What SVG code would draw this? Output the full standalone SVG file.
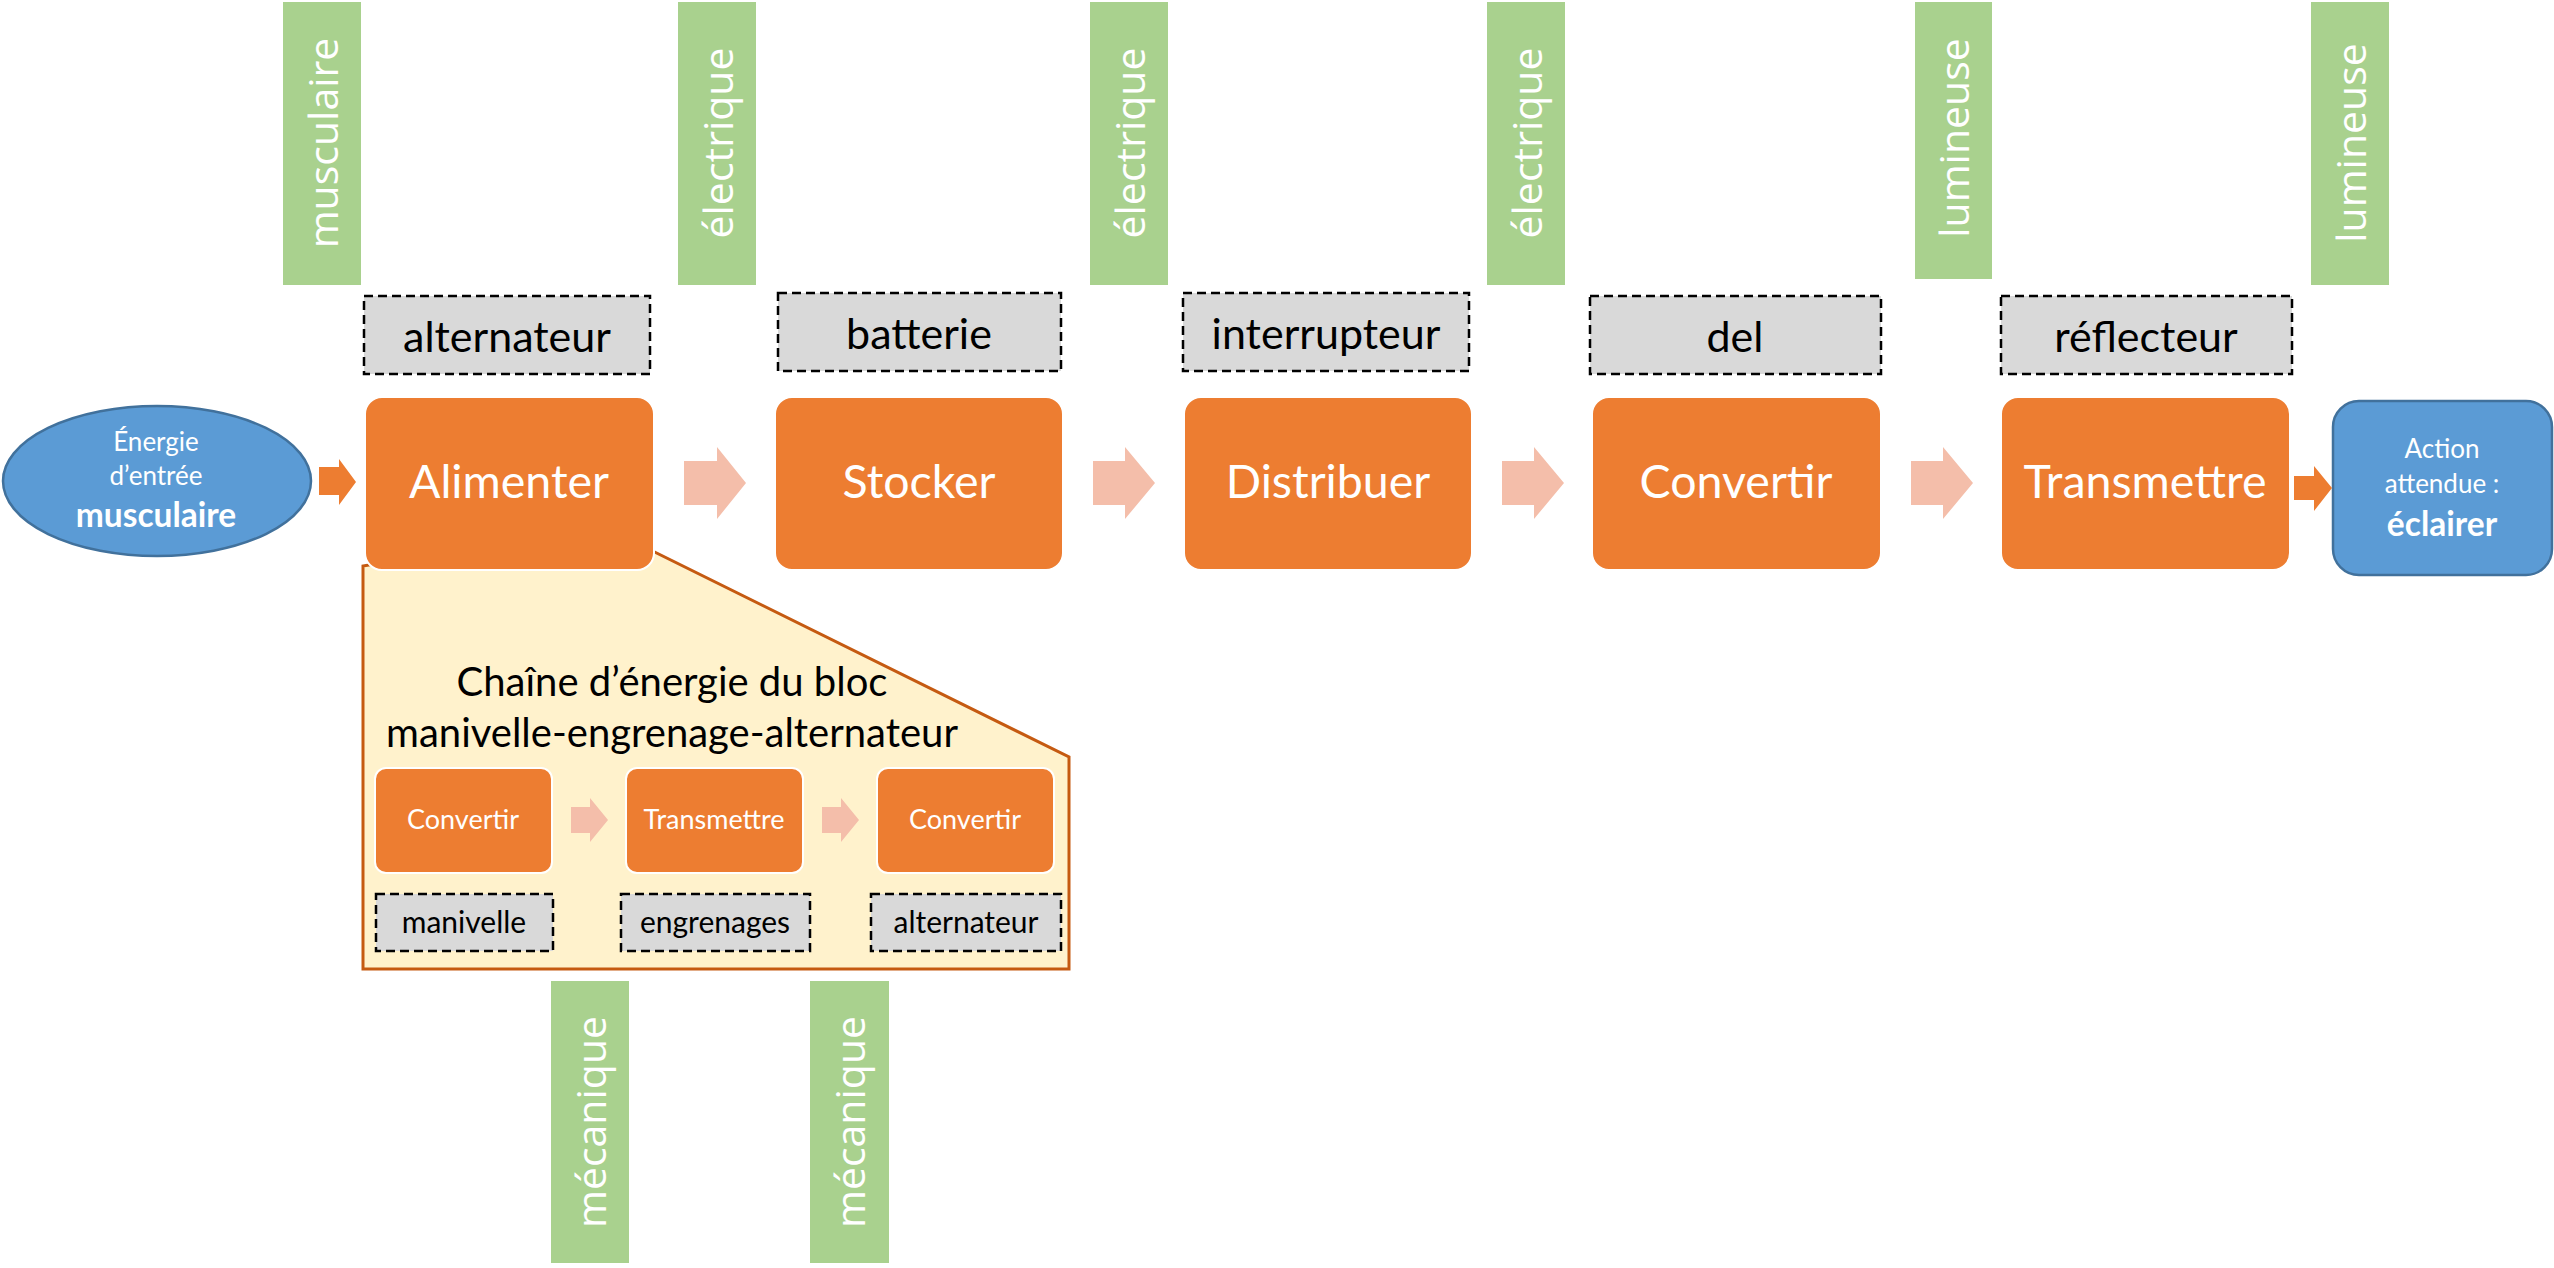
<svg xmlns="http://www.w3.org/2000/svg" width="2554" height="1268" viewBox="0 0 2554 1268">
  <style>
    .bar { fill: #A9D18E; }
    .bar-txt { font-family: "Open Sans", "Liberation Sans", sans-serif; font-weight: 400; font-size: 41px; fill: #FFFFFF; text-anchor: middle; }
    .tag { fill: #D9D9D9; stroke: #000000; stroke-width: 2.5; stroke-dasharray: 9 5; }
    .tag-txt { font-family: Lato, "Liberation Sans", sans-serif; font-size: 43px; fill: #000000; text-anchor: middle; }
    .tag-sm-txt { font-family: Lato, "Liberation Sans", sans-serif; font-size: 30px; fill: #000000; text-anchor: middle; }
    .fn { fill: #ED7D31; stroke: #FFFFFF; stroke-width: 2; }
    .fn-txt { font-family: Lato, "Liberation Sans", sans-serif; font-size: 46.5px; fill: #FFFFFF; text-anchor: middle; }
    .fn-sm-txt { font-family: Lato, "Liberation Sans", sans-serif; font-size: 27px; fill: #FFFFFF; text-anchor: middle; }
    .io { fill: #5B9BD5; stroke: #41719C; stroke-width: 2.5; }
    .io-txt { font-family: Lato, "Liberation Sans", sans-serif; font-size: 26px; fill: #FFFFFF; text-anchor: middle; }
    .io-bold { font-family: Lato, "Liberation Sans", sans-serif; font-size: 33.5px; font-weight: 700; fill: #FFFFFF; text-anchor: middle; }
    .flow { fill: #F4BEAA; }
    .flow-io { fill: #ED7D31; }
    .callout { fill: #FFF2CC; stroke: #C55A11; stroke-width: 3; }
    .callout-txt { font-family: Lato, "Liberation Sans", sans-serif; font-size: 40px; fill: #000000; text-anchor: middle; }
  </style>

  <!-- detail of the Alimenter block, drawn first so the block covers its wedge -->
  <g id="detail-callout">
    <polygon class="callout" points="363,969 363,566 600,525 1069,757 1069,969"/>
    <text class="callout-txt" x="672" y="696">Chaîne d’énergie du bloc</text>
    <text class="callout-txt" x="672" y="747">manivelle-engrenage-alternateur</text>
  </g>

  <!-- energy labels (top) -->
  <g id="energy-musculaire">
    <rect class="bar" x="283" y="2" width="78" height="283"/>
    <text class="bar-txt" transform="translate(338,143) rotate(-90)">musculaire</text>
  </g>
  <g id="energy-electrique-1">
    <rect class="bar" x="678" y="2" width="78" height="283"/>
    <text class="bar-txt" transform="translate(733,143) rotate(-90)">électrique</text>
  </g>
  <g id="energy-electrique-2">
    <rect class="bar" x="1090" y="2" width="78" height="283"/>
    <text class="bar-txt" transform="translate(1145,143) rotate(-90)">électrique</text>
  </g>
  <g id="energy-electrique-3">
    <rect class="bar" x="1487" y="2" width="78" height="283"/>
    <text class="bar-txt" transform="translate(1542,143) rotate(-90)">électrique</text>
  </g>
  <g id="energy-lumineuse-1">
    <rect class="bar" x="1915" y="2" width="77" height="277"/>
    <text class="bar-txt" transform="translate(1969,138) rotate(-90)">lumineuse</text>
  </g>
  <g id="energy-lumineuse-2">
    <rect class="bar" x="2311" y="2" width="78" height="283"/>
    <text class="bar-txt" transform="translate(2366,143) rotate(-90)">lumineuse</text>
  </g>

  <!-- energy labels (bottom) -->
  <g id="energy-mecanique-1">
    <rect class="bar" x="551" y="981" width="78" height="282"/>
    <text class="bar-txt" transform="translate(606,1122) rotate(-90)">mécanique</text>
  </g>
  <g id="energy-mecanique-2">
    <rect class="bar" x="810" y="981" width="79" height="282"/>
    <text class="bar-txt" transform="translate(865,1122) rotate(-90)">mécanique</text>
  </g>

  <!-- components -->
  <g id="comp-alternateur">
    <rect class="tag" x="364" y="296" width="286" height="78"/>
    <text class="tag-txt" x="507" y="352">alternateur</text>
  </g>
  <g id="comp-batterie">
    <rect class="tag" x="778" y="293" width="283" height="78"/>
    <text class="tag-txt" x="919" y="349">batterie</text>
  </g>
  <g id="comp-interrupteur">
    <rect class="tag" x="1183" y="293" width="286" height="78"/>
    <text class="tag-txt" x="1326" y="349">interrupteur</text>
  </g>
  <g id="comp-del">
    <rect class="tag" x="1590" y="296" width="291" height="78"/>
    <text class="tag-txt" x="1735" y="352">del</text>
  </g>
  <g id="comp-reflecteur">
    <rect class="tag" x="2001" y="296" width="291" height="78"/>
    <text class="tag-txt" x="2146" y="352">réflecteur</text>
  </g>

  <!-- input / output -->
  <g id="input-energy">
    <ellipse class="io" cx="157" cy="481" rx="154" ry="75"/>
    <text class="io-txt" x="156" y="451">Énergie</text>
    <text class="io-txt" x="156" y="485">d’entrée</text>
    <text class="io-bold" x="156" y="527">musculaire</text>
  </g>
  <g id="output-action">
    <rect class="io" x="2333" y="401" width="219" height="174" rx="26"/>
    <text class="io-txt" x="2442" y="458">Action</text>
    <text class="io-txt" x="2442" y="493">attendue :</text>
    <text class="io-bold" x="2442" y="536">éclairer</text>
  </g>

  <!-- functions -->
  <g id="fn-alimenter">
    <rect class="fn" x="365" y="397" width="289" height="173" rx="17"/>
    <text class="fn-txt" x="509" y="498">Alimenter</text>
  </g>
  <g id="fn-stocker">
    <rect class="fn" x="775" y="397" width="288" height="173" rx="17"/>
    <text class="fn-txt" x="919" y="498">Stocker</text>
  </g>
  <g id="fn-distribuer">
    <rect class="fn" x="1184" y="397" width="288" height="173" rx="17"/>
    <text class="fn-txt" x="1328" y="498">Distribuer</text>
  </g>
  <g id="fn-convertir">
    <rect class="fn" x="1592" y="397" width="289" height="173" rx="17"/>
    <text class="fn-txt" x="1736" y="498">Convertir</text>
  </g>
  <g id="fn-transmettre">
    <rect class="fn" x="2001" y="397" width="289" height="173" rx="17"/>
    <text class="fn-txt" x="2145" y="498">Transmettre</text>
  </g>

  <!-- sub-functions inside the detail -->
  <g id="sub-convertir-1">
    <rect class="fn" x="375" y="768" width="177" height="105" rx="11"/>
    <text class="fn-sm-txt" x="463" y="829">Convertir</text>
  </g>
  <g id="sub-transmettre">
    <rect class="fn" x="626" y="768" width="177" height="105" rx="11"/>
    <text class="fn-sm-txt" x="714" y="829">Transmettre</text>
  </g>
  <g id="sub-convertir-2">
    <rect class="fn" x="877" y="768" width="177" height="105" rx="11"/>
    <text class="fn-sm-txt" x="965" y="829">Convertir</text>
  </g>
  <g id="sub-comp-manivelle">
    <rect class="tag" x="376" y="894" width="177" height="57"/>
    <text class="tag-sm-txt" x="464" y="933">manivelle</text>
  </g>
  <g id="sub-comp-engrenages">
    <rect class="tag" x="621" y="894" width="189" height="57"/>
    <text class="tag-sm-txt" x="715" y="933">engrenages</text>
  </g>
  <g id="sub-comp-alternateur">
    <rect class="tag" x="871" y="894" width="190" height="57"/>
    <text class="tag-sm-txt" x="966" y="933">alternateur</text>
  </g>

  <!-- flow arrows -->
  <g id="connectors">
    <polygon class="flow-io" points="319,467 339,467 339,459 356,482 339,505 339,495 319,495"/>
    <polygon class="flow" points="684,461 717,461 717,447 746,483 717,519 717,505 684,505"/>
    <polygon class="flow" points="1093,461 1125,461 1125,447 1155,483 1125,519 1125,505 1093,505"/>
    <polygon class="flow" points="1502,461 1534,461 1534,447 1564,483 1534,519 1534,505 1502,505"/>
    <polygon class="flow" points="1911,461 1943,461 1943,447 1973,483 1943,519 1943,505 1911,505"/>
    <polygon class="flow-io" points="2294,476 2314,476 2314,466 2332,488 2314,511 2314,500 2294,500"/>
    <polygon class="flow" points="571,807 590,807 590,798 608,820 590,842 590,833 571,833"/>
    <polygon class="flow" points="822,807 841,807 841,798 859,820 841,842 841,833 822,833"/>
  </g>
</svg>
